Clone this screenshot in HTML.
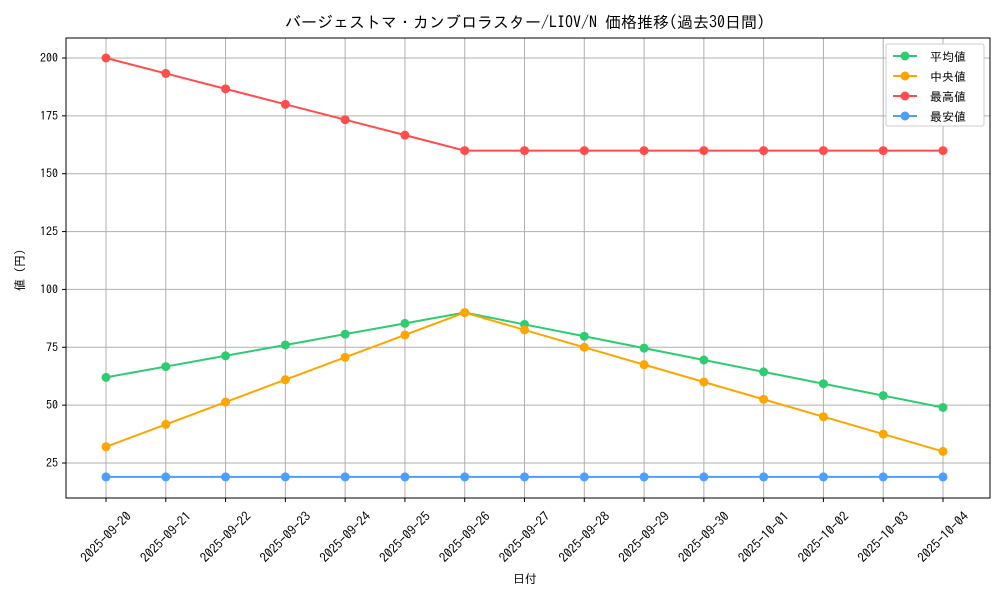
<!DOCTYPE html>
<html><head><meta charset="utf-8"><style>
body{margin:0;background:#fff}
svg text{font-family:"IPAGothic","Noto Sans CJK JP",sans-serif;fill:#000}
</style></head><body>
<svg width="1000" height="600" xmlns="http://www.w3.org/2000/svg">
<rect width="1000" height="600" fill="#fff"/>
<text x="525" y="28" font-size="16" text-anchor="middle">バージェストマ・カンブロラスター/LIOV/N 価格推移(過去30日間)</text>
<g id="grid" stroke="#b0b0b0" stroke-width="1"></g>
<rect x="66" y="38" width="924" height="460" fill="none" stroke="#000" stroke-width="1"/>
<g id="yt" font-size="12"></g>
<g id="xt" font-size="13"></g>
<text x="525" y="583" font-size="12" text-anchor="middle">日付</text>
<text transform="translate(24,270) rotate(-90)" font-size="12" text-anchor="middle">値 (円)</text>
<g id="series"></g>
<g>
<rect x="886" y="44" width="98" height="82" fill="#fff" stroke="#ccc" rx="2"/>
<line x1="893" y1="56" x2="917" y2="56" stroke="#2ecc71" stroke-width="2"/><circle cx="905" cy="56" r="4.5" fill="#2ecc71"/><text x="930" y="61" font-size="12">平均値</text>
<line x1="893" y1="76" x2="917" y2="76" stroke="#ffa500" stroke-width="2"/><circle cx="905" cy="76" r="4.5" fill="#ffa500"/><text x="930" y="81" font-size="12"> 中央値</text>
<line x1="893" y1="96" x2="917" y2="96" stroke="#ff4d4d" stroke-width="2"/><circle cx="905" cy="96" r="4.5" fill="#ff4d4d"/><text x="930" y="101" font-size="12">最高値</text>
<line x1="893" y1="116" x2="917" y2="116" stroke="#4d9eff" stroke-width="2"/><circle cx="905" cy="116" r="4.5" fill="#4d9eff"/><text x="930" y="121" font-size="12">最安値</text>
</g>
</svg>
<script>
const ns="http://www.w3.org/2000/svg";
const X=i=>106+i*59.786, Y=v=>463-(v-25)*2.3143;
function el(p,t,a,txt){const e=document.createElementNS(ns,t);for(const k in a)e.setAttribute(k,a[k]);if(txt!=null)e.textContent=txt;document.getElementById(p).appendChild(e);return e;}
const dates=["2025-09-20","2025-09-21","2025-09-22","2025-09-23","2025-09-24","2025-09-25","2025-09-26","2025-09-27","2025-09-28","2025-09-29","2025-09-30","2025-10-01","2025-10-02","2025-10-03","2025-10-04"];
for(let v=25;v<=200;v+=25){const y=Y(v);el("grid","line",{x1:66,x2:990,y1:y,y2:y});el("yt","line",{x1:62,x2:66,y1:y,y2:y,stroke:"#000"});el("yt","text",{x:58,y:y+4,"text-anchor":"end"},v);}
dates.forEach((d,i)=>{const x=X(i);el("grid","line",{x1:x,x2:x,y1:38,y2:498});el("xt","line",{x1:x,x2:x,y1:498,y2:502,stroke:"#000"});el("xt","text",{transform:`translate(${x},${537}) rotate(-45)`,"text-anchor":"middle","dominant-baseline":"central"},d);});
const mean=[],med=[],mx=[],mn=[];
for(let i=0;i<15;i++){
mean.push(i<=6?62+i*28/6:90-(i-6)*41/8);
med.push(i<=6?32+i*58/6:90-(i-6)*7.5);
mx.push(i<=6?200-i*40/6:160);
mn.push(19);}
[[mean,"#2ecc71"],[med,"#ffa500"],[mx,"#ff4d4d"],[mn,"#4d9eff"]].forEach(([d,c])=>{
el("series","polyline",{points:d.map((v,i)=>X(i)+","+Y(v)).join(" "),fill:"none",stroke:c,"stroke-width":2});
d.forEach((v,i)=>el("series","circle",{cx:X(i),cy:Y(v),r:4.5,fill:c}));});
</script>
</body></html>
